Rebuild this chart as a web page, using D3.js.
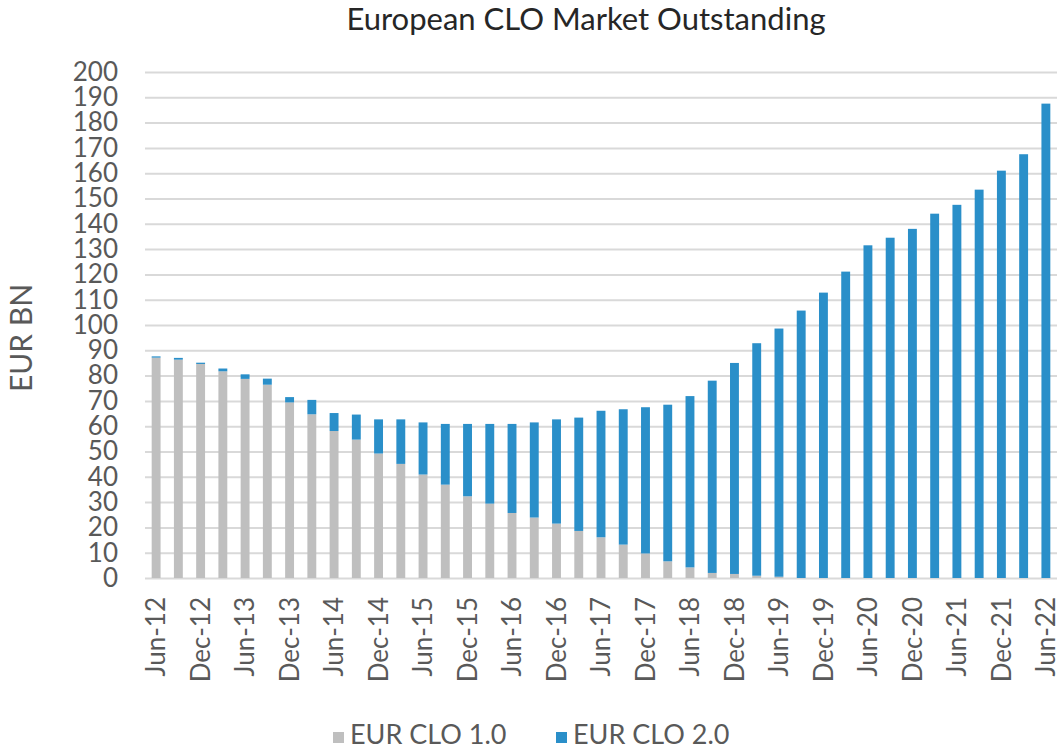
<!DOCTYPE html>
<html>
<head>
<meta charset="utf-8">
<script src="https://cdnjs.cloudflare.com/ajax/libs/d3/7.8.5/d3.min.js"></script>
<style>
  body { margin: 0; background: #fff; }
  svg text { font-family: Lato, "Open Sans", sans-serif; }
</style>
</head>
<body>
<svg id="chart" width="1060" height="748"></svg>
<script>
// quarterly periods
var quarters = ["Jun-12","Sep-12","Dec-12","Mar-13","Jun-13","Sep-13","Dec-13","Mar-14","Jun-14","Sep-14",
  "Dec-14","Mar-15","Jun-15","Sep-15","Dec-15","Mar-16","Jun-16","Sep-16","Dec-16","Mar-17",
  "Jun-17","Sep-17","Dec-17","Mar-18","Jun-18","Sep-18","Dec-18","Mar-19","Jun-19","Sep-19",
  "Dec-19","Mar-20","Jun-20","Sep-20","Dec-20","Mar-21","Jun-21","Sep-21","Dec-21","Mar-22","Jun-22"];

// EUR BN
var clo1 = [87.1, 86.3, 84.6, 81.7, 78.7, 76.4, 69.4, 64.7, 58.1, 54.7,
  49.2, 45.1, 40.9, 36.9, 32.3, 29.4, 25.7, 23.9, 21.5, 18.6,
  16.1, 13.2, 9.7, 6.6, 4.2, 2.0, 1.6, 0.9, 0.5, 0,
  0, 0, 0, 0, 0, 0, 0, 0, 0, 0, 0];
var clo2 = [0.5, 0.7, 0.5, 1.1, 1.8, 2.4, 2.1, 5.7, 7.1, 9.9,
  13.5, 17.6, 20.6, 24.0, 28.6, 31.5, 35.2, 37.6, 41.2, 44.8,
  50.0, 53.5, 57.8, 61.9, 67.7, 76.0, 83.4, 91.9, 98.1, 105.7,
  112.8, 121.1, 131.5, 134.5, 138.0, 144.0, 147.5, 153.5, 161.0, 167.5, 187.5];

var tickLabels = ["Jun-12","Dec-12","Jun-13","Dec-13","Jun-14","Dec-14","Jun-15","Dec-15","Jun-16","Dec-16",
  "Jun-17","Dec-17","Jun-18","Dec-18","Jun-19","Dec-19","Jun-20","Dec-20","Jun-21","Dec-21","Jun-22"];
var yTicks = d3.range(0, 201, 10);

var seriesNames = ["EUR CLO 1.0", "EUR CLO 2.0"];
var colors = ["#BFBFBF", "#2A8FC9"];

var margin = {top: 72, right: 3, bottom: 170, left: 145},
    W = 1060, H = 748,
    width = W - margin.left - margin.right,
    height = H - margin.top - margin.bottom;

var svg = d3.select("#chart");

var x = d3.scaleBand()
    .domain(quarters)
    .range([margin.left, margin.left + width])
    .paddingInner(0.6)
    .paddingOuter(0.3);

var y = d3.scaleLinear()
    .domain([0, 200])
    .range([margin.top + height, margin.top]);

// gridlines
var yAxis = d3.axisLeft(y)
    .tickValues(yTicks)
    .tickSize(-width)
    .tickPadding(27);

var gy = svg.append("g")
    .attr("transform", "translate(" + margin.left + ",0)")
    .call(yAxis);
gy.select(".domain").remove();
gy.selectAll("line").attr("stroke", "#D9D9D9").attr("stroke-width", 2);
gy.selectAll("text")
    .attr("fill", "#595959")
    .style("font-size", "26px");

// stacked bars
var rows = quarters.map(function (q, i) {
  return {q: q, a: clo1[i], b: clo2[i]};
});
var stack = d3.stack().keys(["a", "b"]);
var layers = stack(rows);

svg.selectAll(".layer")
    .data(layers)
    .enter().append("g")
    .attr("class", "layer")
    .attr("fill", function (d, i) { return colors[i]; })
    .selectAll("rect")
    .data(function (d) { return d; })
    .enter().append("rect")
    .attr("x", function (d) { return x(d.data.q); })
    .attr("width", x.bandwidth())
    .attr("y", function (d) { return y(d[1]); })
    .attr("height", function (d) { return y(d[0]) - y(d[1]); });

// x axis labels
var xAxis = d3.axisBottom(x)
    .tickValues(tickLabels)
    .tickSize(0);
var gx = svg.append("g")
    .attr("transform", "translate(0," + (margin.top + height) + ")")
    .call(xAxis);
gx.select(".domain").remove();
gx.selectAll("text")
    .attr("fill", "#595959")
    .style("font-size", "26px")
    .attr("text-anchor", "end")
    .attr("transform", "rotate(-90)")
    .attr("x", -19)
    .attr("y", 0)
    .attr("dy", "0.36em");

// title
svg.append("text")
    .attr("x", 586)
    .attr("y", 30)
    .attr("text-anchor", "middle")
    .attr("fill", "#262626")
    .style("font-size", "31px")
    .text("European CLO Market Outstanding");

// y label
svg.append("text")
    .attr("transform", "translate(32,338)rotate(-90)")
    .attr("text-anchor", "middle")
    .attr("fill", "#595959")
    .style("font-size", "30px")
    .text("EUR BN");

// legend
var legend = svg.append("g").attr("transform", "translate(333,732)");
var items = legend.selectAll("g")
    .data(seriesNames)
    .enter().append("g")
    .attr("transform", function (d, i) { return "translate(" + (i * 223) + ",0)"; });
items.append("rect")
    .attr("width", 11).attr("height", 11)
    .attr("y", 0)
    .attr("fill", function (d, i) { return colors[i]; });
items.append("text")
    .attr("x", 17)
    .attr("y", 12)
    .attr("fill", "#595959")
    .style("font-size", "27px")
    .text(function (d) { return d; });
</script>
</body>
</html>
